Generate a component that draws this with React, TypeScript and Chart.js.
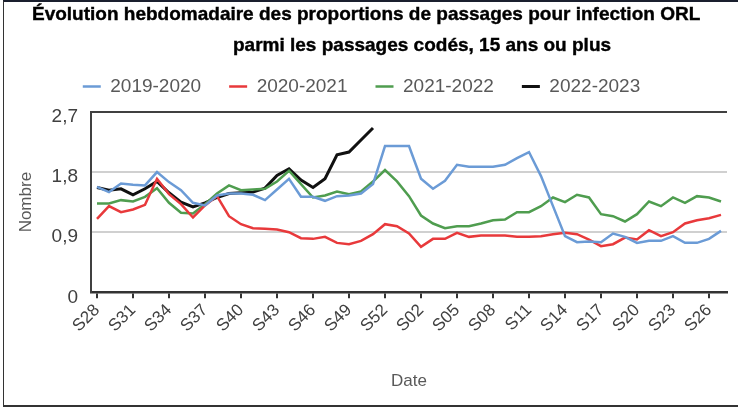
import React, { useEffect, useRef } from "react";
import { Chart, registerables } from "chart.js";

Chart.register(...registerables);

const titleLine1 = "Évolution hebdomadaire des proportions de passages pour infection ORL";
const titleLine2 = "parmi les passages codés, 15 ans ou plus";
const xTitle = "Date";
const yTitle = "Nombre";

const weeks = [
  "S28", "S29", "S30", "S31", "S32", "S33", "S34", "S35", "S36", "S37",
  "S38", "S39", "S40", "S41", "S42", "S43", "S44", "S45", "S46", "S47",
  "S48", "S49", "S50", "S51", "S52", "S53", "S01", "S02", "S03", "S04",
  "S05", "S06", "S07", "S08", "S09", "S10", "S11", "S12", "S13", "S14",
  "S15", "S16", "S17", "S18", "S19", "S20", "S21", "S22", "S23", "S24",
  "S25", "S26", "S27",
];

const seriesLabels = ["2019-2020", "2020-2021", "2021-2022", "2022-2023"];
const seriesColors = ["#6b9bd6", "#e8393b", "#4f9d4f", "#111111"];

const s2019 = [
  1.58, 1.50, 1.63, 1.61, 1.60, 1.80, 1.65, 1.53, 1.34, 1.30,
  1.45, 1.48, 1.48, 1.46, 1.38, 1.54, 1.70, 1.43, 1.43, 1.37,
  1.44, 1.45, 1.48, 1.62, 2.19, 2.19, 2.19, 1.70, 1.55, 1.67,
  1.91, 1.88, 1.88, 1.88, 1.91, 2.01, 2.10, 1.74, 1.29, 0.84,
  0.75, 0.76, 0.75, 0.88, 0.83, 0.74, 0.77, 0.77, 0.84, 0.74,
  0.74, 0.80, 0.92,
];
const s2020 = [
  1.10, 1.29, 1.20, 1.24, 1.31, 1.70, 1.47, 1.32, 1.12, 1.30,
  1.44, 1.14, 1.02, 0.96, 0.95, 0.94, 0.90, 0.81, 0.80, 0.83,
  0.74, 0.72, 0.77, 0.87, 1.02, 0.99, 0.88, 0.68, 0.80, 0.80,
  0.89, 0.83, 0.85, 0.85, 0.85, 0.83, 0.83, 0.84, 0.87, 0.89,
  0.87, 0.79, 0.69, 0.72, 0.82, 0.79, 0.93, 0.84, 0.90, 1.03,
  1.08, 1.11, 1.16,
];
const s2021 = [
  1.33, 1.33, 1.38, 1.36, 1.43, 1.56, 1.34, 1.19, 1.18, 1.32,
  1.48, 1.60, 1.53, 1.54, 1.55, 1.66, 1.82, 1.62, 1.42, 1.45,
  1.51, 1.47, 1.51, 1.66, 1.83, 1.66, 1.44, 1.15, 1.03, 0.96,
  0.99, 0.99, 1.03, 1.08, 1.09, 1.20, 1.20, 1.29, 1.42, 1.35,
  1.46, 1.42, 1.17, 1.14, 1.06, 1.17, 1.36, 1.29, 1.42, 1.34,
  1.44, 1.42, 1.36,
];
const s2022 = [
  1.57, 1.53, 1.55, 1.46, 1.55, 1.66, 1.49, 1.35, 1.28, 1.34,
  1.42, 1.48, 1.49, 1.50, 1.56, 1.75, 1.85, 1.68, 1.57, 1.70,
  2.06, 2.10, 2.28, 2.46,
];

const yTicks = [0, 0.9, 1.8, 2.7];
const yTickLabels = ["0", "0,9", "1,8", "2,7"];

const FONT = "'Liberation Sans', Arial, sans-serif";

const LEGEND_EXTRA_HEIGHT = 6;
const LEGEND_SHIFT_LEFT = 20;
const Y_AXIS_WIDTH = 75;

const legendTweak = {
  id: "legendTweak",
  beforeLayout(chart: any) {
    const lg = chart.legend;
    if (lg && !lg.__wrapped) {
      const orig = lg.fit;
      lg.fit = function (this: any) {
        orig.call(this);
        this.height += LEGEND_EXTRA_HEIGHT;
      };
      lg.__wrapped = true;
    }
  },
  afterLayout(chart: any) {
    const lg = chart.legend;
    if (lg) lg.left -= LEGEND_SHIFT_LEFT;
  },
};

export default function App() {
  const canvasRef = useRef<HTMLCanvasElement | null>(null);

  useEffect(() => {
    const canvas = canvasRef.current;
    if (!canvas) return;
    const allSeries = [s2019, s2020, s2021, s2022];
    const chart = new Chart(canvas, {
      type: "line",
      plugins: [legendTweak],
      data: {
        labels: weeks,
        datasets: allSeries.map((d, i) => ({
          label: seriesLabels[i],
          data: weeks.map((_, k) => (k < d.length ? d[k] : null)),
          borderColor: seriesColors[i],
          backgroundColor: seriesColors[i],
          borderWidth: i === 3 ? 3 : 2.5,
          pointRadius: 0,
          tension: 0,
          spanGaps: false,
        })),
      },
      options: {
        animation: false,
        responsive: false,
        maintainAspectRatio: false,
        layout: { padding: { top: 49, left: 16, right: 11, bottom: 18 } },
        plugins: {
          title: { display: false },
          tooltip: { enabled: false },
          legend: {
            display: true,
            position: "top",
            labels: {
              usePointStyle: true,
              pointStyle: "line",
              pointStyleWidth: 18,
              padding: 28,
              color: "#595959",
              font: { family: FONT, size: 19 },
            },
          },
        },
        scales: {
          x: {
            type: "category",
            offset: true,
            grid: {
              display: true,
              drawOnChartArea: false,
              drawTicks: true,
              tickLength: 6,
              color: "#333333",
              lineWidth: 2,
              offset: false,
            },
            border: { display: true, color: "#333333", width: 2.5 },
            ticks: {
              autoSkip: false,
              maxRotation: 45,
              minRotation: 45,
              padding: 2,
              color: "#404040",
              font: { family: FONT, size: 17 },
              callback: (_v: any, idx: number) => (idx % 3 === 0 ? weeks[idx] : null),
            },
            title: {
              display: true,
              text: xTitle,
              color: "#595959",
              font: { family: FONT, size: 17 },
              padding: { top: 33.5, bottom: 0 },
            },
          },
          y: {
            min: 0,
            max: 2.7,
            afterBuildTicks: (scale: any) => {
              scale.ticks = yTicks.map((v) => ({ value: v }));
            },
            afterFit: (scale: any) => {
              scale.width = Y_AXIS_WIDTH;
            },
            grid: {
              drawTicks: false,
              lineWidth: 2,
              color: (ctx: any) => {
                const v = ctx.tick ? ctx.tick.value : 0;
                if (v >= 2.69) return "#404040";
                if (v <= 0.01) return "rgba(0,0,0,0)";
                return "#d0d0d0";
              },
            },
            border: { display: true, color: "#404040", width: 2 },
            ticks: {
              padding: 13,
              labelOffset: 5,
              color: "#404040",
              font: { family: FONT, size: 19 },
              callback: (v: any) => {
                const idx = yTicks.findIndex((t) => Math.abs(t - Number(v)) < 1e-6);
                return idx >= 0 ? yTickLabels[idx] : "";
              },
            },
            title: {
              display: true,
              text: yTitle,
              color: "#595959",
              font: { family: FONT, size: 17 },
              padding: { top: 0, bottom: 5 },
            },
          },
        },
      },
    });
    return () => chart.destroy();
  }, []);

  const titleStyle: React.CSSProperties = {
    position: "absolute",
    fontFamily: FONT,
    fontWeight: 700,
    fontSize: 19,
    lineHeight: "22px",
    color: "#000",
    whiteSpace: "nowrap",
    WebkitTextStroke: "0.4px #000",
  };

  return (
    <div
      style={{
        position: "absolute",
        left: 0,
        top: 0,
        width: 738,
        height: 410,
        background: "#fff",
        overflow: "hidden",
      }}
    >
      <canvas ref={canvasRef} width={738} height={410} style={{ position: "absolute", left: 0, top: 0, width: 738, height: 410 }} />
      <div style={{ ...titleStyle, left: 32, top: 3 }}>{titleLine1}</div>
      <div style={{ ...titleStyle, left: 233, top: 34 }}>{titleLine2}</div>
      <div
        style={{
          position: "absolute",
          left: 3,
          top: 0,
          width: 735,
          height: 407,
          borderLeft: "1px solid #333",
          borderTop: "2px solid #1a1f2e",
          borderBottom: "2px solid #333",
          boxSizing: "border-box",
          pointerEvents: "none",
        }}
      />
    </div>
  );
}
